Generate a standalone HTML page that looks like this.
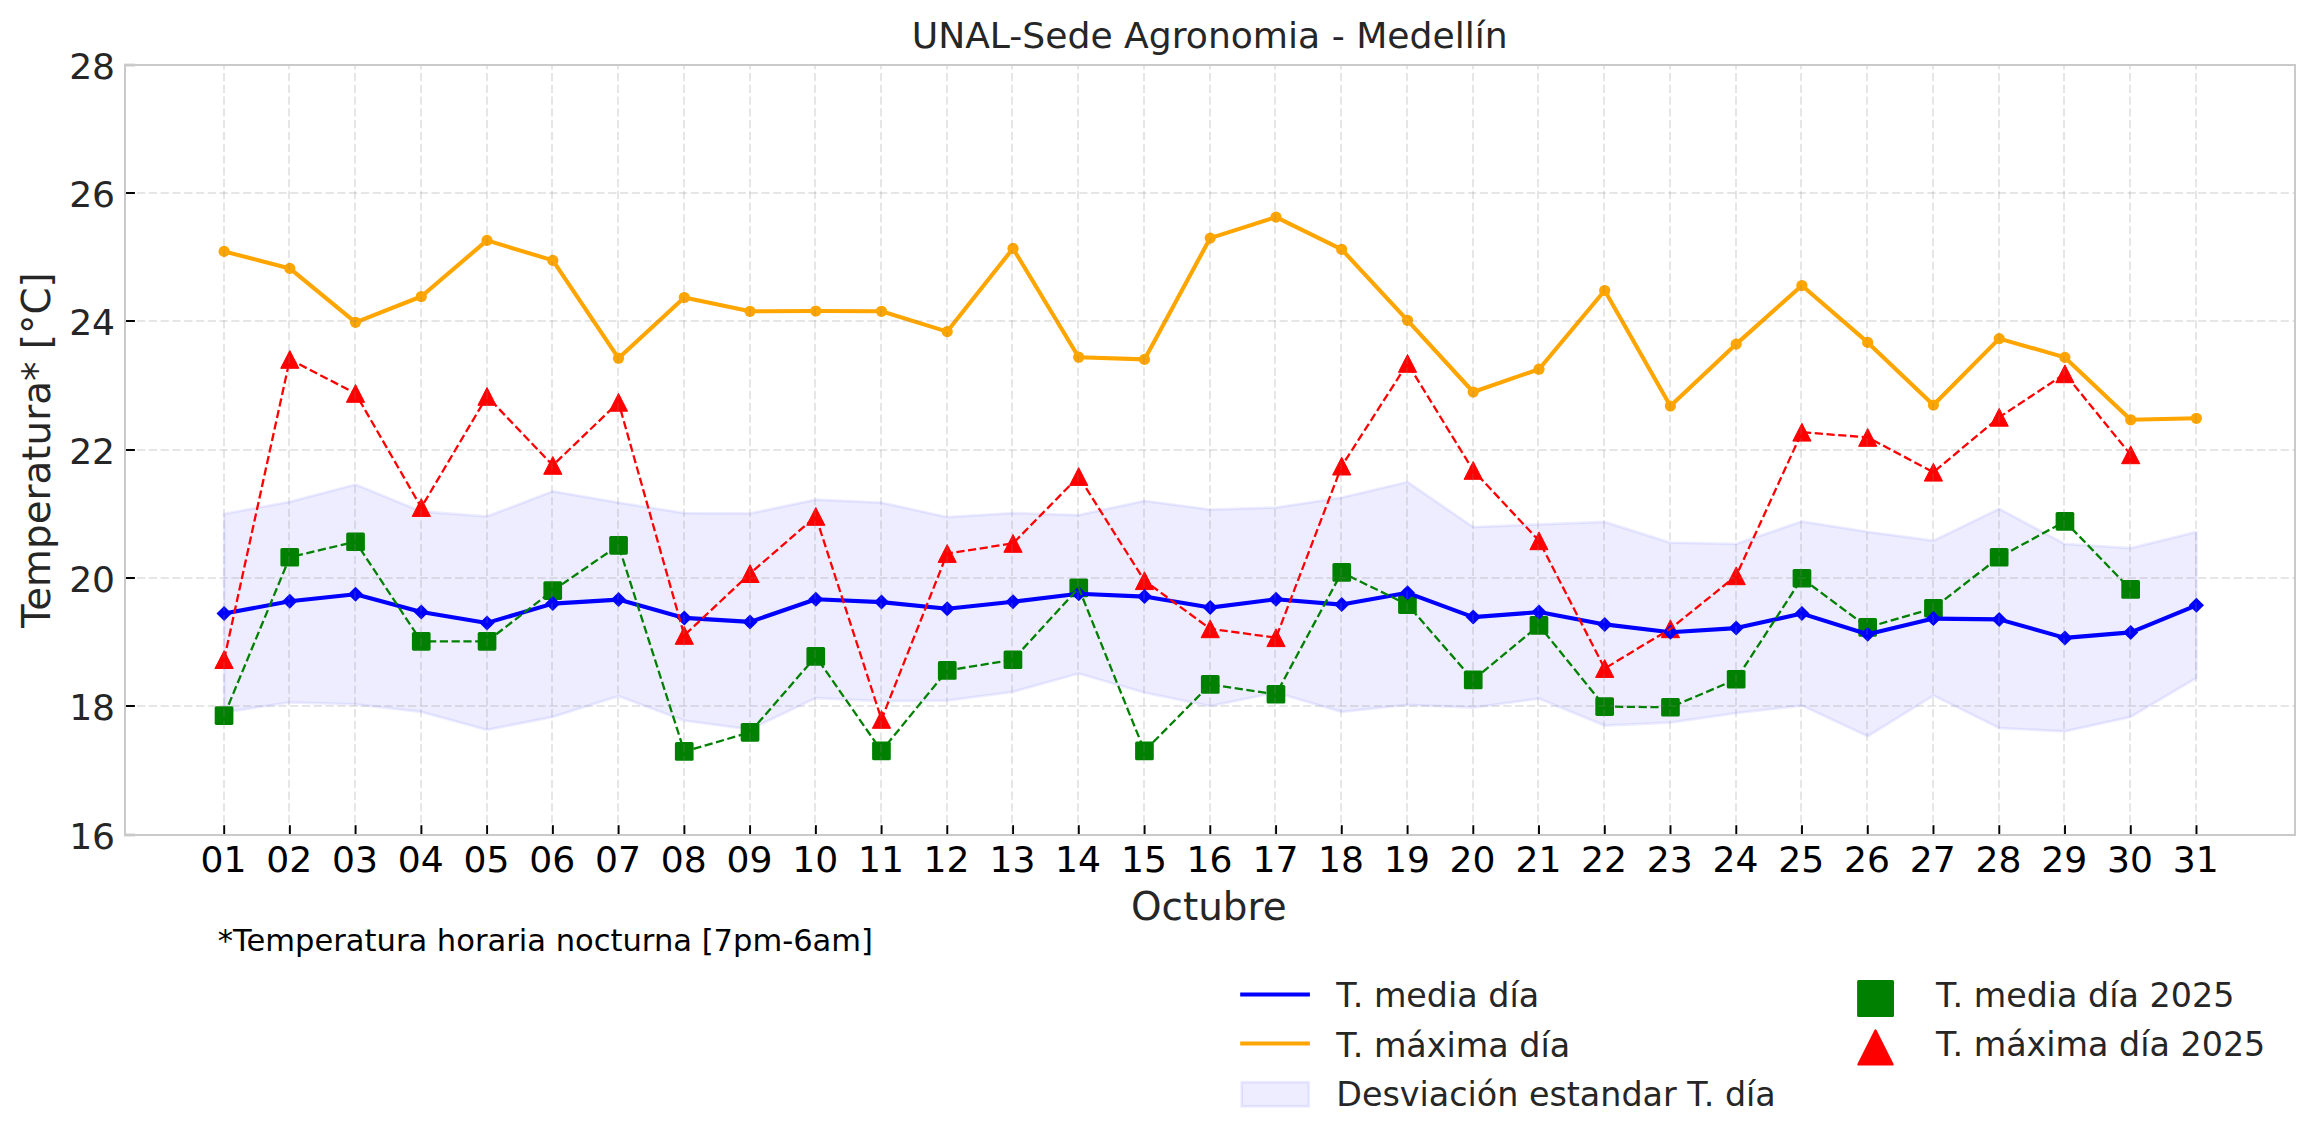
<!DOCTYPE html>
<html lang="es"><head><meta charset="utf-8"><title>UNAL-Sede Agronomia - Medellín</title>
<style>html,body{margin:0;padding:0;background:#fff}svg{display:block}text{font-family:"DejaVu Sans","Liberation Sans",sans-serif}</style></head><body>
<svg width="2314" height="1146" viewBox="0 0 2314 1146">
<rect width="2314" height="1146" fill="#fff"/>
<polygon points="224.1,513.9 289.8,501.8 355.5,484.5 421.3,511.5 487.0,516.4 552.8,491.3 618.5,502.6 684.3,513.1 750.0,513.5 815.8,499.6 881.5,502.6 947.2,517.1 1013.0,513.1 1078.7,515.1 1144.5,500.8 1210.2,509.6 1276.0,507.6 1341.7,497.6 1407.5,482.0 1473.2,527.1 1539.0,524.4 1604.7,521.9 1670.4,542.7 1736.2,543.9 1801.9,521.4 1867.7,531.8 1933.4,540.7 1999.2,508.8 2064.9,543.9 2130.7,548.2 2196.4,531.9 2196.4,678.0 2130.7,716.9 2064.9,731.4 1999.2,728.1 1933.4,695.6 1867.7,736.3 1801.9,705.6 1736.2,713.1 1670.4,722.6 1604.7,725.6 1539.0,698.6 1473.2,707.6 1407.5,704.8 1341.7,711.9 1276.0,692.6 1210.2,706.1 1144.5,692.6 1078.7,673.5 1013.0,691.8 947.2,700.6 881.5,701.1 815.8,698.1 750.0,729.4 684.3,720.6 618.5,696.1 552.8,716.9 487.0,729.9 421.3,711.9 355.5,704.3 289.8,702.3 224.1,712.4" fill="#0000ff" fill-opacity="0.07" stroke="#0000ff" stroke-opacity="0.07" stroke-width="2.8" stroke-linejoin="round"/>
<rect x="214.7" y="706.2" width="18.7" height="18.7" rx="1.6" fill="#008000"/>
<rect x="280.4" y="547.9" width="18.7" height="18.7" rx="1.6" fill="#008000"/>
<rect x="346.2" y="532.4" width="18.7" height="18.7" rx="1.6" fill="#008000"/>
<rect x="411.9" y="632.0" width="18.7" height="18.7" rx="1.6" fill="#008000"/>
<rect x="477.7" y="632.0" width="18.7" height="18.7" rx="1.6" fill="#008000"/>
<rect x="543.4" y="581.2" width="18.7" height="18.7" rx="1.6" fill="#008000"/>
<rect x="609.2" y="536.0" width="18.7" height="18.7" rx="1.6" fill="#008000"/>
<rect x="674.9" y="742.1" width="18.7" height="18.7" rx="1.6" fill="#008000"/>
<rect x="740.7" y="723.0" width="18.7" height="18.7" rx="1.6" fill="#008000"/>
<rect x="806.4" y="647.1" width="18.7" height="18.7" rx="1.6" fill="#008000"/>
<rect x="872.1" y="741.6" width="18.7" height="18.7" rx="1.6" fill="#008000"/>
<rect x="937.9" y="661.1" width="18.7" height="18.7" rx="1.6" fill="#008000"/>
<rect x="1003.6" y="650.4" width="18.7" height="18.7" rx="1.6" fill="#008000"/>
<rect x="1069.4" y="578.6" width="18.7" height="18.7" rx="1.6" fill="#008000"/>
<rect x="1135.1" y="741.6" width="18.7" height="18.7" rx="1.6" fill="#008000"/>
<rect x="1200.9" y="675.1" width="18.7" height="18.7" rx="1.6" fill="#008000"/>
<rect x="1266.6" y="684.9" width="18.7" height="18.7" rx="1.6" fill="#008000"/>
<rect x="1332.4" y="563.1" width="18.7" height="18.7" rx="1.6" fill="#008000"/>
<rect x="1398.1" y="595.2" width="18.7" height="18.7" rx="1.6" fill="#008000"/>
<rect x="1463.9" y="670.6" width="18.7" height="18.7" rx="1.6" fill="#008000"/>
<rect x="1529.6" y="616.0" width="18.7" height="18.7" rx="1.6" fill="#008000"/>
<rect x="1595.3" y="697.2" width="18.7" height="18.7" rx="1.6" fill="#008000"/>
<rect x="1661.1" y="697.9" width="18.7" height="18.7" rx="1.6" fill="#008000"/>
<rect x="1726.8" y="669.9" width="18.7" height="18.7" rx="1.6" fill="#008000"/>
<rect x="1792.6" y="568.9" width="18.7" height="18.7" rx="1.6" fill="#008000"/>
<rect x="1858.3" y="618.0" width="18.7" height="18.7" rx="1.6" fill="#008000"/>
<rect x="1924.1" y="598.9" width="18.7" height="18.7" rx="1.6" fill="#008000"/>
<rect x="1989.8" y="547.9" width="18.7" height="18.7" rx="1.6" fill="#008000"/>
<rect x="2055.6" y="512.0" width="18.7" height="18.7" rx="1.6" fill="#008000"/>
<rect x="2121.3" y="580.1" width="18.7" height="18.7" rx="1.6" fill="#008000"/>
<polygon points="224.1,650.7 214.9,668.5 233.2,668.5" fill="#ff0000" stroke="#ff0000" stroke-width="1" stroke-linejoin="round"/>
<polygon points="289.8,350.5 280.7,368.3 298.9,368.3" fill="#ff0000" stroke="#ff0000" stroke-width="1" stroke-linejoin="round"/>
<polygon points="355.5,384.5 346.4,402.3 364.6,402.3" fill="#ff0000" stroke="#ff0000" stroke-width="1" stroke-linejoin="round"/>
<polygon points="421.3,498.6 412.2,516.4 430.4,516.4" fill="#ff0000" stroke="#ff0000" stroke-width="1" stroke-linejoin="round"/>
<polygon points="487.0,387.5 477.9,405.3 496.1,405.3" fill="#ff0000" stroke="#ff0000" stroke-width="1" stroke-linejoin="round"/>
<polygon points="552.8,456.5 543.7,474.3 561.9,474.3" fill="#ff0000" stroke="#ff0000" stroke-width="1" stroke-linejoin="round"/>
<polygon points="618.5,393.4 609.4,411.2 627.6,411.2" fill="#ff0000" stroke="#ff0000" stroke-width="1" stroke-linejoin="round"/>
<polygon points="684.3,626.5 675.2,644.3 693.4,644.3" fill="#ff0000" stroke="#ff0000" stroke-width="1" stroke-linejoin="round"/>
<polygon points="750.0,564.7 740.9,582.5 759.1,582.5" fill="#ff0000" stroke="#ff0000" stroke-width="1" stroke-linejoin="round"/>
<polygon points="815.8,507.5 806.7,525.3 824.9,525.3" fill="#ff0000" stroke="#ff0000" stroke-width="1" stroke-linejoin="round"/>
<polygon points="881.5,710.5 872.4,728.3 890.6,728.3" fill="#ff0000" stroke="#ff0000" stroke-width="1" stroke-linejoin="round"/>
<polygon points="947.2,544.6 938.1,562.4 956.3,562.4" fill="#ff0000" stroke="#ff0000" stroke-width="1" stroke-linejoin="round"/>
<polygon points="1013.0,534.5 1003.9,552.3 1022.1,552.3" fill="#ff0000" stroke="#ff0000" stroke-width="1" stroke-linejoin="round"/>
<polygon points="1078.7,467.6 1069.6,485.4 1087.8,485.4" fill="#ff0000" stroke="#ff0000" stroke-width="1" stroke-linejoin="round"/>
<polygon points="1144.5,571.8 1135.4,589.6 1153.6,589.6" fill="#ff0000" stroke="#ff0000" stroke-width="1" stroke-linejoin="round"/>
<polygon points="1210.2,619.9 1201.1,637.7 1219.3,637.7" fill="#ff0000" stroke="#ff0000" stroke-width="1" stroke-linejoin="round"/>
<polygon points="1276.0,628.8 1266.9,646.6 1285.1,646.6" fill="#ff0000" stroke="#ff0000" stroke-width="1" stroke-linejoin="round"/>
<polygon points="1341.7,457.2 1332.6,475.0 1350.8,475.0" fill="#ff0000" stroke="#ff0000" stroke-width="1" stroke-linejoin="round"/>
<polygon points="1407.5,354.5 1398.4,372.3 1416.6,372.3" fill="#ff0000" stroke="#ff0000" stroke-width="1" stroke-linejoin="round"/>
<polygon points="1473.2,461.5 1464.1,479.3 1482.3,479.3" fill="#ff0000" stroke="#ff0000" stroke-width="1" stroke-linejoin="round"/>
<polygon points="1539.0,531.9 1529.9,549.7 1548.0,549.7" fill="#ff0000" stroke="#ff0000" stroke-width="1" stroke-linejoin="round"/>
<polygon points="1604.7,659.6 1595.6,677.4 1613.8,677.4" fill="#ff0000" stroke="#ff0000" stroke-width="1" stroke-linejoin="round"/>
<polygon points="1670.4,619.9 1661.3,637.7 1679.5,637.7" fill="#ff0000" stroke="#ff0000" stroke-width="1" stroke-linejoin="round"/>
<polygon points="1736.2,566.9 1727.1,584.7 1745.3,584.7" fill="#ff0000" stroke="#ff0000" stroke-width="1" stroke-linejoin="round"/>
<polygon points="1801.9,423.3 1792.8,441.1 1811.0,441.1" fill="#ff0000" stroke="#ff0000" stroke-width="1" stroke-linejoin="round"/>
<polygon points="1867.7,428.5 1858.6,446.3 1876.8,446.3" fill="#ff0000" stroke="#ff0000" stroke-width="1" stroke-linejoin="round"/>
<polygon points="1933.4,463.3 1924.3,481.1 1942.5,481.1" fill="#ff0000" stroke="#ff0000" stroke-width="1" stroke-linejoin="round"/>
<polygon points="1999.2,408.4 1990.1,426.2 2008.3,426.2" fill="#ff0000" stroke="#ff0000" stroke-width="1" stroke-linejoin="round"/>
<polygon points="2064.9,364.9 2055.8,382.7 2074.0,382.7" fill="#ff0000" stroke="#ff0000" stroke-width="1" stroke-linejoin="round"/>
<polygon points="2130.7,445.9 2121.6,463.7 2139.8,463.7" fill="#ff0000" stroke="#ff0000" stroke-width="1" stroke-linejoin="round"/>
<polyline points="224.1,613.6 289.8,601.3 355.5,594.3 421.3,612.1 487.0,622.9 552.8,603.6 618.5,599.6 684.3,617.9 750.0,621.9 815.8,599.3 881.5,602.1 947.2,608.8 1013.0,601.8 1078.7,593.8 1144.5,596.6 1210.2,607.6 1276.0,599.3 1341.7,604.6 1407.5,592.8 1473.2,617.1 1539.0,612.1 1604.7,624.4 1670.4,632.2 1736.2,628.1 1801.9,613.6 1867.7,634.2 1933.4,618.6 1999.2,619.4 2064.9,637.9 2130.7,632.4 2196.4,605.3" fill="none" stroke="#0000ff" stroke-width="4.1" stroke-linejoin="round" stroke-linecap="butt"/>
<polygon points="224.1,606.1 231.6,613.6 224.1,621.1 216.5,613.6" fill="#0000ff"/>
<polygon points="289.8,593.8 297.3,601.3 289.8,608.8 282.2,601.3" fill="#0000ff"/>
<polygon points="355.5,586.8 363.1,594.3 355.5,601.8 348.0,594.3" fill="#0000ff"/>
<polygon points="421.3,604.6 428.8,612.1 421.3,619.6 413.7,612.1" fill="#0000ff"/>
<polygon points="487.0,615.4 494.6,622.9 487.0,630.4 479.5,622.9" fill="#0000ff"/>
<polygon points="552.8,596.1 560.3,603.6 552.8,611.1 545.2,603.6" fill="#0000ff"/>
<polygon points="618.5,592.1 626.1,599.6 618.5,607.1 611.0,599.6" fill="#0000ff"/>
<polygon points="684.3,610.4 691.8,617.9 684.3,625.4 676.7,617.9" fill="#0000ff"/>
<polygon points="750.0,614.4 757.6,621.9 750.0,629.4 742.5,621.9" fill="#0000ff"/>
<polygon points="815.8,591.8 823.3,599.3 815.8,606.8 808.2,599.3" fill="#0000ff"/>
<polygon points="881.5,594.6 889.0,602.1 881.5,609.6 874.0,602.1" fill="#0000ff"/>
<polygon points="947.2,601.2 954.8,608.8 947.2,616.3 939.7,608.8" fill="#0000ff"/>
<polygon points="1013.0,594.2 1020.5,601.8 1013.0,609.3 1005.4,601.8" fill="#0000ff"/>
<polygon points="1078.7,586.2 1086.3,593.8 1078.7,601.3 1071.2,593.8" fill="#0000ff"/>
<polygon points="1144.5,589.1 1152.0,596.6 1144.5,604.1 1136.9,596.6" fill="#0000ff"/>
<polygon points="1210.2,600.1 1217.8,607.6 1210.2,615.1 1202.7,607.6" fill="#0000ff"/>
<polygon points="1276.0,591.8 1283.5,599.3 1276.0,606.8 1268.4,599.3" fill="#0000ff"/>
<polygon points="1341.7,597.1 1349.3,604.6 1341.7,612.1 1334.2,604.6" fill="#0000ff"/>
<polygon points="1407.5,585.2 1415.0,592.8 1407.5,600.3 1399.9,592.8" fill="#0000ff"/>
<polygon points="1473.2,609.6 1480.8,617.1 1473.2,624.6 1465.7,617.1" fill="#0000ff"/>
<polygon points="1539.0,604.6 1546.5,612.1 1539.0,619.6 1531.4,612.1" fill="#0000ff"/>
<polygon points="1604.7,616.9 1612.2,624.4 1604.7,631.9 1597.1,624.4" fill="#0000ff"/>
<polygon points="1670.4,624.7 1678.0,632.2 1670.4,639.8 1662.9,632.2" fill="#0000ff"/>
<polygon points="1736.2,620.6 1743.7,628.1 1736.2,635.6 1728.6,628.1" fill="#0000ff"/>
<polygon points="1801.9,606.1 1809.5,613.6 1801.9,621.1 1794.4,613.6" fill="#0000ff"/>
<polygon points="1867.7,626.7 1875.2,634.2 1867.7,641.8 1860.1,634.2" fill="#0000ff"/>
<polygon points="1933.4,611.1 1941.0,618.6 1933.4,626.1 1925.9,618.6" fill="#0000ff"/>
<polygon points="1999.2,611.9 2006.7,619.4 1999.2,626.9 1991.6,619.4" fill="#0000ff"/>
<polygon points="2064.9,630.4 2072.5,637.9 2064.9,645.4 2057.4,637.9" fill="#0000ff"/>
<polygon points="2130.7,624.9 2138.2,632.4 2130.7,639.9 2123.1,632.4" fill="#0000ff"/>
<polygon points="2196.4,597.8 2204.0,605.3 2196.4,612.8 2188.8,605.3" fill="#0000ff"/>
<polyline points="224.1,251.4 289.8,268.4 355.5,322.3 421.3,296.5 487.0,240.4 552.8,260.4 618.5,358.2 684.3,297.5 750.0,311.3 815.8,311.0 881.5,311.3 947.2,331.6 1013.0,248.4 1078.7,357.2 1144.5,359.4 1210.2,238.1 1276.0,217.1 1341.7,249.4 1407.5,320.3 1473.2,392.0 1539.0,369.2 1604.7,290.5 1670.4,406.0 1736.2,344.1 1801.9,285.5 1867.7,342.4 1933.4,405.0 1999.2,338.6 2064.9,357.4 2130.7,419.8 2196.4,418.3" fill="none" stroke="#ffa500" stroke-width="4.1" stroke-linejoin="round"/>
<circle cx="224.1" cy="251.4" r="5.6" fill="#ffa500"/>
<circle cx="289.8" cy="268.4" r="5.6" fill="#ffa500"/>
<circle cx="355.5" cy="322.3" r="5.6" fill="#ffa500"/>
<circle cx="421.3" cy="296.5" r="5.6" fill="#ffa500"/>
<circle cx="487.0" cy="240.4" r="5.6" fill="#ffa500"/>
<circle cx="552.8" cy="260.4" r="5.6" fill="#ffa500"/>
<circle cx="618.5" cy="358.2" r="5.6" fill="#ffa500"/>
<circle cx="684.3" cy="297.5" r="5.6" fill="#ffa500"/>
<circle cx="750.0" cy="311.3" r="5.6" fill="#ffa500"/>
<circle cx="815.8" cy="311.0" r="5.6" fill="#ffa500"/>
<circle cx="881.5" cy="311.3" r="5.6" fill="#ffa500"/>
<circle cx="947.2" cy="331.6" r="5.6" fill="#ffa500"/>
<circle cx="1013.0" cy="248.4" r="5.6" fill="#ffa500"/>
<circle cx="1078.7" cy="357.2" r="5.6" fill="#ffa500"/>
<circle cx="1144.5" cy="359.4" r="5.6" fill="#ffa500"/>
<circle cx="1210.2" cy="238.1" r="5.6" fill="#ffa500"/>
<circle cx="1276.0" cy="217.1" r="5.6" fill="#ffa500"/>
<circle cx="1341.7" cy="249.4" r="5.6" fill="#ffa500"/>
<circle cx="1407.5" cy="320.3" r="5.6" fill="#ffa500"/>
<circle cx="1473.2" cy="392.0" r="5.6" fill="#ffa500"/>
<circle cx="1539.0" cy="369.2" r="5.6" fill="#ffa500"/>
<circle cx="1604.7" cy="290.5" r="5.6" fill="#ffa500"/>
<circle cx="1670.4" cy="406.0" r="5.6" fill="#ffa500"/>
<circle cx="1736.2" cy="344.1" r="5.6" fill="#ffa500"/>
<circle cx="1801.9" cy="285.5" r="5.6" fill="#ffa500"/>
<circle cx="1867.7" cy="342.4" r="5.6" fill="#ffa500"/>
<circle cx="1933.4" cy="405.0" r="5.6" fill="#ffa500"/>
<circle cx="1999.2" cy="338.6" r="5.6" fill="#ffa500"/>
<circle cx="2064.9" cy="357.4" r="5.6" fill="#ffa500"/>
<circle cx="2130.7" cy="419.8" r="5.6" fill="#ffa500"/>
<circle cx="2196.4" cy="418.3" r="5.6" fill="#ffa500"/>
<polyline points="224.1,715.6 289.8,557.2 355.5,541.7 421.3,641.4 487.0,641.4 552.8,590.6 618.5,545.4 684.3,751.5 750.0,732.4 815.8,656.5 881.5,751.0 947.2,670.5 1013.0,659.7 1078.7,588.0 1144.5,751.0 1210.2,684.5 1276.0,694.3 1341.7,572.5 1407.5,604.6 1473.2,680.0 1539.0,625.4 1604.7,706.6 1670.4,707.3 1736.2,679.3 1801.9,578.3 1867.7,627.4 1933.4,608.3 1999.2,557.2 2064.9,521.4 2130.7,589.5" fill="none" stroke="#008000" stroke-width="2.3" stroke-dasharray="8.22 3.56"/>
<polyline points="224.1,659.6 289.8,359.4 355.5,393.4 421.3,507.5 487.0,396.4 552.8,465.4 618.5,402.3 684.3,635.4 750.0,573.6 815.8,516.4 881.5,719.4 947.2,553.5 1013.0,543.4 1078.7,476.5 1144.5,580.7 1210.2,628.8 1276.0,637.7 1341.7,466.1 1407.5,363.4 1473.2,470.4 1539.0,540.8 1604.7,668.5 1670.4,628.8 1736.2,575.8 1801.9,432.2 1867.7,437.4 1933.4,472.2 1999.2,417.3 2064.9,373.8 2130.7,454.8" fill="none" stroke="#ff0000" stroke-width="2.3" stroke-dasharray="8.22 3.56"/>
<g stroke="#808080" stroke-opacity="0.2" stroke-width="2" stroke-dasharray="8.222 3.556" fill="none"><line x1="224" x2="224" y1="835.0" y2="64.6"/><line x1="289" x2="289" y1="835.0" y2="64.6"/><line x1="355" x2="355" y1="835.0" y2="64.6"/><line x1="421" x2="421" y1="835.0" y2="64.6"/><line x1="487" x2="487" y1="835.0" y2="64.6"/><line x1="552" x2="552" y1="835.0" y2="64.6"/><line x1="618" x2="618" y1="835.0" y2="64.6"/><line x1="684" x2="684" y1="835.0" y2="64.6"/><line x1="750" x2="750" y1="835.0" y2="64.6"/><line x1="815" x2="815" y1="835.0" y2="64.6"/><line x1="881" x2="881" y1="835.0" y2="64.6"/><line x1="947" x2="947" y1="835.0" y2="64.6"/><line x1="1012" x2="1012" y1="835.0" y2="64.6"/><line x1="1078" x2="1078" y1="835.0" y2="64.6"/><line x1="1144" x2="1144" y1="835.0" y2="64.6"/><line x1="1210" x2="1210" y1="835.0" y2="64.6"/><line x1="1275" x2="1275" y1="835.0" y2="64.6"/><line x1="1341" x2="1341" y1="835.0" y2="64.6"/><line x1="1407" x2="1407" y1="835.0" y2="64.6"/><line x1="1473" x2="1473" y1="835.0" y2="64.6"/><line x1="1538" x2="1538" y1="835.0" y2="64.6"/><line x1="1604" x2="1604" y1="835.0" y2="64.6"/><line x1="1670" x2="1670" y1="835.0" y2="64.6"/><line x1="1736" x2="1736" y1="835.0" y2="64.6"/><line x1="1801" x2="1801" y1="835.0" y2="64.6"/><line x1="1867" x2="1867" y1="835.0" y2="64.6"/><line x1="1933" x2="1933" y1="835.0" y2="64.6"/><line x1="1999" x2="1999" y1="835.0" y2="64.6"/><line x1="2064" x2="2064" y1="835.0" y2="64.6"/><line x1="2130" x2="2130" y1="835.0" y2="64.6"/><line x1="2196" x2="2196" y1="835.0" y2="64.6"/><line x1="125.3" x2="2295.0" y1="835" y2="835"/><line x1="125.3" x2="2295.0" y1="706" y2="706"/><line x1="125.3" x2="2295.0" y1="578" y2="578"/><line x1="125.3" x2="2295.0" y1="450" y2="450"/><line x1="125.3" x2="2295.0" y1="321" y2="321"/><line x1="125.3" x2="2295.0" y1="193" y2="193"/><line x1="125.3" x2="2295.0" y1="65" y2="65"/></g>
<line x1="125.0" x2="134.9" y1="835" y2="835" stroke="#000" stroke-width="2"/>
<line x1="125.0" x2="134.9" y1="706" y2="706" stroke="#000" stroke-width="2"/>
<line x1="125.0" x2="134.9" y1="578" y2="578" stroke="#000" stroke-width="2"/>
<line x1="125.0" x2="134.9" y1="450" y2="450" stroke="#000" stroke-width="2"/>
<line x1="125.0" x2="134.9" y1="321" y2="321" stroke="#000" stroke-width="2"/>
<line x1="125.0" x2="134.9" y1="193" y2="193" stroke="#000" stroke-width="2"/>
<line x1="125.0" x2="134.9" y1="65" y2="65" stroke="#000" stroke-width="2"/>
<line x1="224.2" x2="224.2" y1="835.0" y2="825.2" stroke="#000" stroke-width="1.9"/>
<line x1="289.9" x2="289.9" y1="835.0" y2="825.2" stroke="#000" stroke-width="1.9"/>
<line x1="355.6" x2="355.6" y1="835.0" y2="825.2" stroke="#000" stroke-width="1.9"/>
<line x1="421.4" x2="421.4" y1="835.0" y2="825.2" stroke="#000" stroke-width="1.9"/>
<line x1="487.1" x2="487.1" y1="835.0" y2="825.2" stroke="#000" stroke-width="1.9"/>
<line x1="552.9" x2="552.9" y1="835.0" y2="825.2" stroke="#000" stroke-width="1.9"/>
<line x1="618.6" x2="618.6" y1="835.0" y2="825.2" stroke="#000" stroke-width="1.9"/>
<line x1="684.4" x2="684.4" y1="835.0" y2="825.2" stroke="#000" stroke-width="1.9"/>
<line x1="750.1" x2="750.1" y1="835.0" y2="825.2" stroke="#000" stroke-width="1.9"/>
<line x1="815.9" x2="815.9" y1="835.0" y2="825.2" stroke="#000" stroke-width="1.9"/>
<line x1="881.6" x2="881.6" y1="835.0" y2="825.2" stroke="#000" stroke-width="1.9"/>
<line x1="947.3" x2="947.3" y1="835.0" y2="825.2" stroke="#000" stroke-width="1.9"/>
<line x1="1013.1" x2="1013.1" y1="835.0" y2="825.2" stroke="#000" stroke-width="1.9"/>
<line x1="1078.8" x2="1078.8" y1="835.0" y2="825.2" stroke="#000" stroke-width="1.9"/>
<line x1="1144.6" x2="1144.6" y1="835.0" y2="825.2" stroke="#000" stroke-width="1.9"/>
<line x1="1210.3" x2="1210.3" y1="835.0" y2="825.2" stroke="#000" stroke-width="1.9"/>
<line x1="1276.1" x2="1276.1" y1="835.0" y2="825.2" stroke="#000" stroke-width="1.9"/>
<line x1="1341.8" x2="1341.8" y1="835.0" y2="825.2" stroke="#000" stroke-width="1.9"/>
<line x1="1407.6" x2="1407.6" y1="835.0" y2="825.2" stroke="#000" stroke-width="1.9"/>
<line x1="1473.3" x2="1473.3" y1="835.0" y2="825.2" stroke="#000" stroke-width="1.9"/>
<line x1="1539.0" x2="1539.0" y1="835.0" y2="825.2" stroke="#000" stroke-width="1.9"/>
<line x1="1604.8" x2="1604.8" y1="835.0" y2="825.2" stroke="#000" stroke-width="1.9"/>
<line x1="1670.5" x2="1670.5" y1="835.0" y2="825.2" stroke="#000" stroke-width="1.9"/>
<line x1="1736.3" x2="1736.3" y1="835.0" y2="825.2" stroke="#000" stroke-width="1.9"/>
<line x1="1802.0" x2="1802.0" y1="835.0" y2="825.2" stroke="#000" stroke-width="1.9"/>
<line x1="1867.8" x2="1867.8" y1="835.0" y2="825.2" stroke="#000" stroke-width="1.9"/>
<line x1="1933.5" x2="1933.5" y1="835.0" y2="825.2" stroke="#000" stroke-width="1.9"/>
<line x1="1999.3" x2="1999.3" y1="835.0" y2="825.2" stroke="#000" stroke-width="1.9"/>
<line x1="2065.0" x2="2065.0" y1="835.0" y2="825.2" stroke="#000" stroke-width="1.9"/>
<line x1="2130.8" x2="2130.8" y1="835.0" y2="825.2" stroke="#000" stroke-width="1.9"/>
<line x1="2196.5" x2="2196.5" y1="835.0" y2="825.2" stroke="#000" stroke-width="1.9"/>
<rect x="125.0" y="65.0" width="2170.0" height="770.0" fill="none" stroke="#cacaca" stroke-width="2"/>
<rect x="124" y="63.3" width="11" height="3.6" fill="#cacaca" fill-opacity="0.55"/><rect x="124" y="833.2" width="11" height="3.6" fill="#cacaca" fill-opacity="0.55"/>
<text x="115.1" y="848.7" font-size="36.11" fill="#262626" text-anchor="end">16</text>
<text x="115.1" y="719.7" font-size="36.11" fill="#262626" text-anchor="end">18</text>
<text x="115.1" y="591.7" font-size="36.11" fill="#262626" text-anchor="end">20</text>
<text x="115.1" y="463.7" font-size="36.11" fill="#262626" text-anchor="end">22</text>
<text x="115.1" y="334.7" font-size="36.11" fill="#262626" text-anchor="end">24</text>
<text x="115.1" y="206.7" font-size="36.11" fill="#262626" text-anchor="end">26</text>
<text x="115.1" y="78.7" font-size="36.11" fill="#262626" text-anchor="end">28</text>
<text x="223.5" y="871.9" font-size="36.11" fill="#000" text-anchor="middle">01</text>
<text x="289.2" y="871.9" font-size="36.11" fill="#000" text-anchor="middle">02</text>
<text x="354.9" y="871.9" font-size="36.11" fill="#000" text-anchor="middle">03</text>
<text x="420.7" y="871.9" font-size="36.11" fill="#000" text-anchor="middle">04</text>
<text x="486.4" y="871.9" font-size="36.11" fill="#000" text-anchor="middle">05</text>
<text x="552.2" y="871.9" font-size="36.11" fill="#000" text-anchor="middle">06</text>
<text x="617.9" y="871.9" font-size="36.11" fill="#000" text-anchor="middle">07</text>
<text x="683.7" y="871.9" font-size="36.11" fill="#000" text-anchor="middle">08</text>
<text x="749.4" y="871.9" font-size="36.11" fill="#000" text-anchor="middle">09</text>
<text x="815.2" y="871.9" font-size="36.11" fill="#000" text-anchor="middle">10</text>
<text x="880.9" y="871.9" font-size="36.11" fill="#000" text-anchor="middle">11</text>
<text x="946.6" y="871.9" font-size="36.11" fill="#000" text-anchor="middle">12</text>
<text x="1012.4" y="871.9" font-size="36.11" fill="#000" text-anchor="middle">13</text>
<text x="1078.1" y="871.9" font-size="36.11" fill="#000" text-anchor="middle">14</text>
<text x="1143.9" y="871.9" font-size="36.11" fill="#000" text-anchor="middle">15</text>
<text x="1209.6" y="871.9" font-size="36.11" fill="#000" text-anchor="middle">16</text>
<text x="1275.4" y="871.9" font-size="36.11" fill="#000" text-anchor="middle">17</text>
<text x="1341.1" y="871.9" font-size="36.11" fill="#000" text-anchor="middle">18</text>
<text x="1406.9" y="871.9" font-size="36.11" fill="#000" text-anchor="middle">19</text>
<text x="1472.6" y="871.9" font-size="36.11" fill="#000" text-anchor="middle">20</text>
<text x="1538.4" y="871.9" font-size="36.11" fill="#000" text-anchor="middle">21</text>
<text x="1604.1" y="871.9" font-size="36.11" fill="#000" text-anchor="middle">22</text>
<text x="1669.8" y="871.9" font-size="36.11" fill="#000" text-anchor="middle">23</text>
<text x="1735.6" y="871.9" font-size="36.11" fill="#000" text-anchor="middle">24</text>
<text x="1801.3" y="871.9" font-size="36.11" fill="#000" text-anchor="middle">25</text>
<text x="1867.1" y="871.9" font-size="36.11" fill="#000" text-anchor="middle">26</text>
<text x="1932.8" y="871.9" font-size="36.11" fill="#000" text-anchor="middle">27</text>
<text x="1998.6" y="871.9" font-size="36.11" fill="#000" text-anchor="middle">28</text>
<text x="2064.3" y="871.9" font-size="36.11" fill="#000" text-anchor="middle">29</text>
<text x="2130.1" y="871.9" font-size="36.11" fill="#000" text-anchor="middle">30</text>
<text x="2195.8" y="871.9" font-size="36.11" fill="#000" text-anchor="middle">31</text>
<text x="1209.7" y="48.2" font-size="36.11" fill="#262626" text-anchor="middle">UNAL-Sede Agronomia - Medellín</text>
<text x="1208.8" y="920" font-size="38.89" fill="#262626" text-anchor="middle">Octubre</text>
<text transform="translate(50.3,450.1) rotate(-90)" font-size="38.89" fill="#262626" text-anchor="middle">Temperatura* [°C]</text>
<text x="217.8" y="950.5" font-size="30.56" fill="#000">*Temperatura horaria nocturna [7pm-6am]</text>
<line x1="1240.2" x2="1309.9" y1="994.5" y2="994.5" stroke="#0000ff" stroke-width="4.17"/>
<line x1="1240.2" x2="1309.9" y1="1043.5" y2="1043.5" stroke="#ffa500" stroke-width="4.0"/>
<rect x="1241.6" y="1082.2" width="67.2" height="24.2" fill="#0000ff" fill-opacity="0.07" stroke="#0000ff" stroke-opacity="0.07" stroke-width="2.8"/>
<text x="1336.3" y="1007.4" font-size="33.33" fill="#262626">T. media día</text>
<text x="1336.3" y="1056.7" font-size="33.33" fill="#262626">T. máxima día</text>
<text x="1336.3" y="1106.0" font-size="33.33" fill="#262626">Desviación estandar T. día</text>
<rect x="1857.1" y="980" width="36.9" height="36.9" rx="1.5" fill="#008000"/>
<polygon points="1875.5,1030.3 1858.3,1064.5 1892.7,1064.5" fill="#ff0000" stroke="#ff0000" stroke-width="2" stroke-linejoin="round"/>
<text x="1936.1" y="1007.2" font-size="33.33" fill="#262626">T. media día 2025</text>
<text x="1936.1" y="1056.1" font-size="33.33" fill="#262626">T. máxima día 2025</text>
</svg></body></html>
